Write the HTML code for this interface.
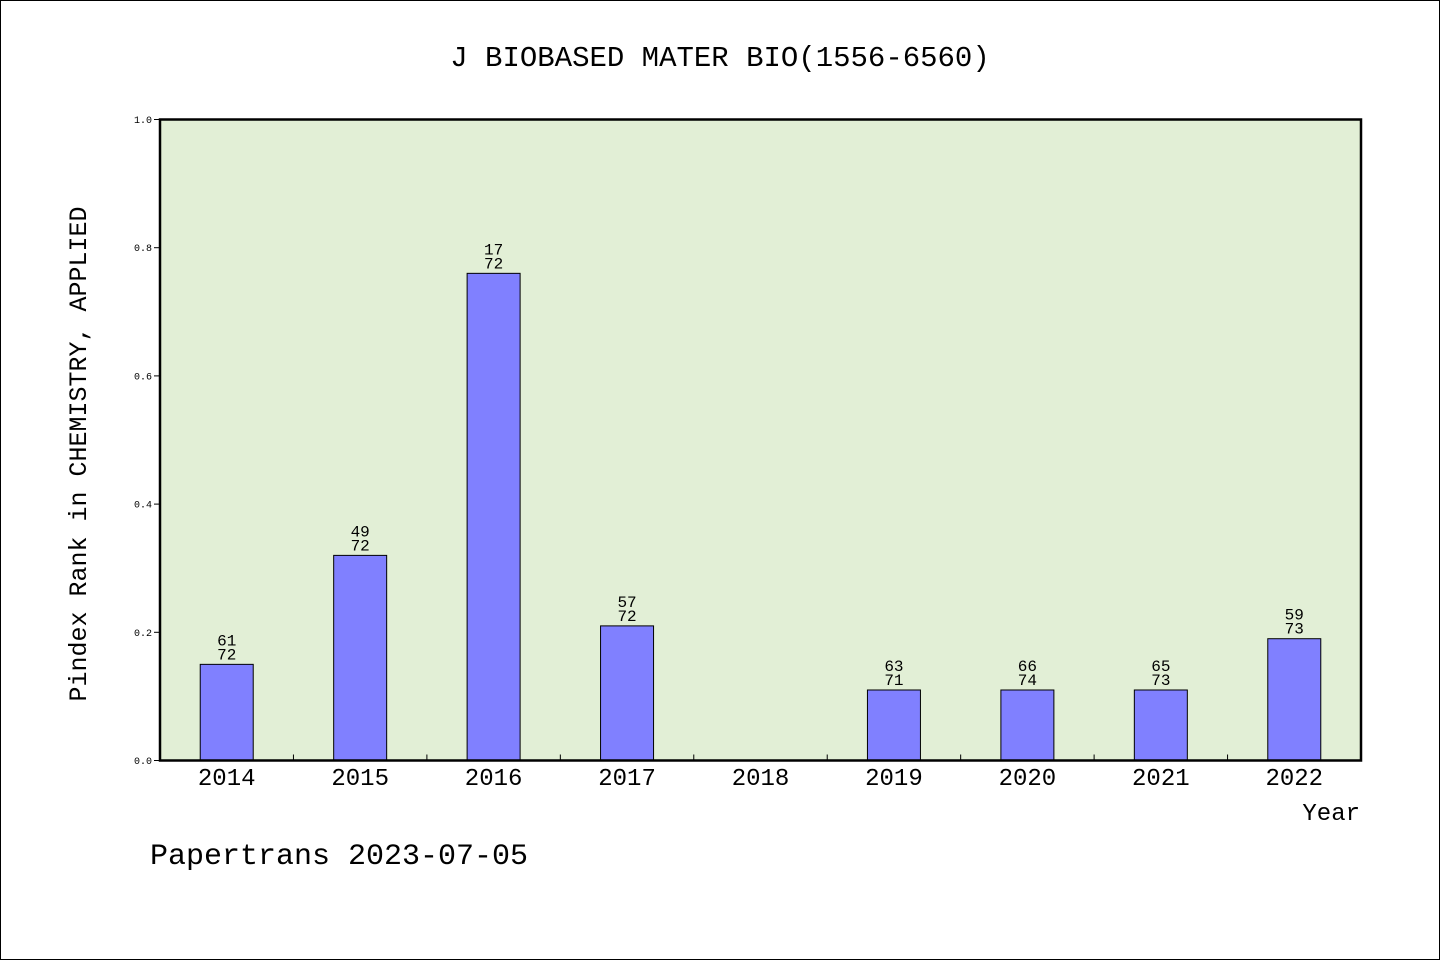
<!DOCTYPE html>
<html><head><meta charset="utf-8"><style>
html,body{margin:0;padding:0;background:#fff}
svg{display:block}
text{font-family:"Liberation Mono","WenQuanYi Zen Hei",monospace;fill:#000}
</style></head><body>
<svg id="chart" width="1440" height="960" xmlns="http://www.w3.org/2000/svg">
<rect x="0.5" y="0.5" width="1439" height="959" fill="#fff" stroke="#000"/>
<text x="720" y="66" font-size="29" text-anchor="middle">J BIOBASED MATER BIO(1556-6560)</text>
<rect x="160" y="119.5" width="1201" height="641" fill="#e2efd6"/>
<g id="yticks"></g>
<g id="bars"></g>
<g id="xticks"></g>
<rect x="160" y="119.5" width="1201" height="641" fill="none" stroke="#000" stroke-width="2.5"/>
<text x="86" y="454" font-size="25" text-anchor="middle" transform="rotate(-90 86 454)">Pindex Rank in CHEMISTRY, APPLIED</text>
<text x="1360" y="820" font-size="24" text-anchor="end">Year</text>
<text x="150" y="864" font-size="30">Papertrans 2023-07-05</text>
</svg>
<script>
const years=["2014","2015","2016","2017","2018","2019","2020","2021","2022"];
const ranks=[61,49,17,57,null,63,66,65,59];
const totals=[72,72,72,72,null,71,74,73,73];
const yTicks=["0.0","0.2","0.4","0.6","0.8","1.0"];
const NS="http://www.w3.org/2000/svg";
const X0=160,X1=1361,Y0=760.5,Y1=119.5;
const band=(X1-X0)/years.length;
const xc=i=>X0+band*(i+0.5);
const y=v=>Y0-(Y0-Y1)*v;
function mk(t,a,p){const e=document.createElementNS(NS,t);for(const k in a)e.setAttribute(k,a[k]);p.appendChild(e);return e;}
const yt=document.getElementById('yticks');
yTicks.forEach(s=>{const v=parseFloat(s);
 const l=mk('line',{x1:X0-6,x2:X0,y1:y(v),y2:y(v),stroke:'#000'},yt);
 
 
 const t=mk('text',{x:X0-8,y:y(v)+3.5,'font-size':10,'text-anchor':'end'},yt);t.textContent=s;
 
 
});
const bg=document.getElementById('bars');
years.forEach((yr,i)=>{
 if(ranks[i]!=null){
  const v=Math.round((1-ranks[i]/totals[i])*100)/100;
  const r=mk('rect',{x:xc(i)-26.5,y:y(v),width:53,height:Y0-y(v),fill:'#8080ff',stroke:'#000','stroke-width':1},bg);
  
  
  const t1=mk('text',{x:xc(i),y:y(v)-19,'font-size':16,'text-anchor':'middle'},bg);t1.textContent=ranks[i];
  
  
  const t2=mk('text',{x:xc(i),y:y(v)-5,'font-size':16,'text-anchor':'middle'},bg);t2.textContent=totals[i];
  
  
 }
});
const xt=document.getElementById('xticks');
years.forEach((yr,i)=>{
 const t=mk('text',{x:xc(i),y:785,'font-size':24,'text-anchor':'middle'},xt);t.textContent=yr;
 
 
 if(i>0){const l=mk('line',{x1:X0+band*i,x2:X0+band*i,y1:Y0,y2:Y0-6,stroke:'#000'},xt);
 
 }
});
</script>
</body></html>
